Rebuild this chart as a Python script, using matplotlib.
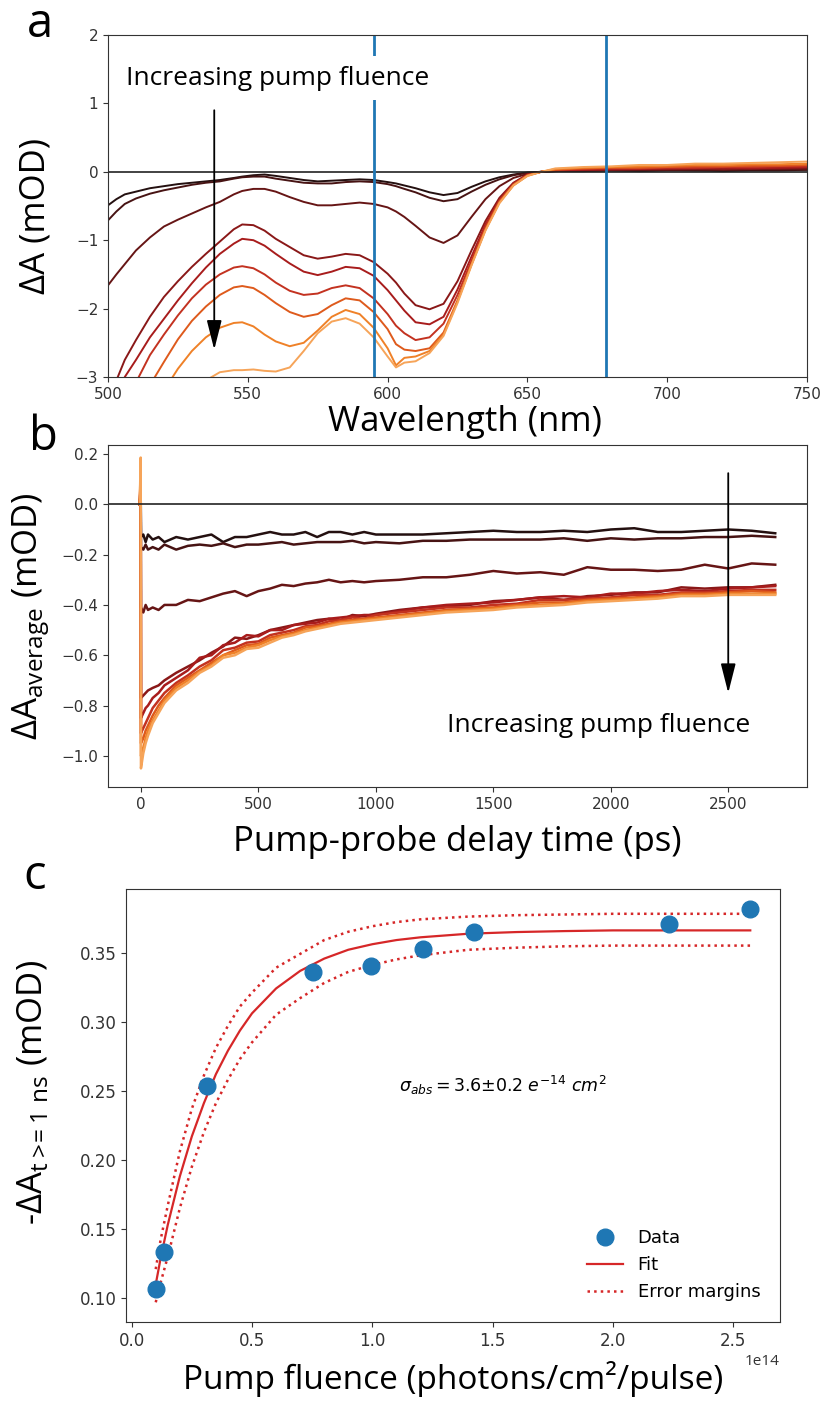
import numpy as np
import matplotlib
matplotlib.use("Agg")
import matplotlib.pyplot as plt

plt.rcParams['font.family'] = ['Open Sans', 'DejaVu Sans']

# ---- panel a : transient spectra (mOD) ----
wavelength = [500, 503, 506, 510, 515, 520, 525, 530, 535, 540, 545, 548, 552, 556, 560,
              565, 570, 575, 580, 585, 590, 595, 600, 603, 606, 610, 615, 620, 625, 630,
              635, 640, 645, 650, 655, 660, 670, 680, 690, 700, 710, 720, 730, 740, 750]
spec1 = [-0.49, -0.40, -0.33, -0.29, -0.24, -0.21, -0.18, -0.16, -0.14, -0.12, -0.09, -0.07, -0.05, -0.04, -0.06,
         -0.09, -0.12, -0.14, -0.13, -0.12, -0.11, -0.12, -0.15, -0.17, -0.20, -0.24, -0.30, -0.34, -0.31, -0.22,
         -0.14, -0.08, -0.04, -0.01, 0.0, 0.01, 0.01, 0.02, 0.01, 0.02, 0.02, 0.01, 0.02, 0.02, 0.03]
spec2 = [-0.71, -0.58, -0.47, -0.39, -0.32, -0.27, -0.23, -0.19, -0.16, -0.14, -0.10, -0.08, -0.07, -0.07, -0.10,
         -0.13, -0.16, -0.17, -0.17, -0.15, -0.14, -0.15, -0.18, -0.21, -0.25, -0.30, -0.38, -0.43, -0.40, -0.29,
         -0.19, -0.11, -0.05, -0.015, 0.0, 0.01, 0.02, 0.02, 0.02, 0.03, 0.02, 0.03, 0.03, 0.03, 0.03]
spec3 = [-1.66, -1.50, -1.35, -1.15, -0.96, -0.80, -0.70, -0.61, -0.52, -0.44, -0.33, -0.28, -0.25, -0.25, -0.29,
         -0.37, -0.44, -0.49, -0.49, -0.47, -0.45, -0.47, -0.52, -0.58, -0.66, -0.79, -0.96, -1.04, -0.93, -0.66,
         -0.40, -0.21, -0.09, -0.03, 0.0, 0.01, 0.02, 0.03, 0.03, 0.03, 0.04, 0.03, 0.04, 0.04, 0.04]
spec4 = [-3.6, -3.05, -2.75, -2.46, -2.12, -1.83, -1.60, -1.39, -1.20, -1.02, -0.84, -0.77, -0.78, -0.86, -0.98,
         -1.10, -1.22, -1.27, -1.24, -1.20, -1.22, -1.32, -1.49, -1.62, -1.78, -1.95, -2.01, -1.93, -1.60, -1.15,
         -0.72, -0.38, -0.16, -0.04, 0.0, 0.02, 0.03, 0.03, 0.04, 0.04, 0.05, 0.04, 0.05, 0.05, 0.06]
spec5 = [-4.0, -3.5, -3.0, -2.75, -2.42, -2.15, -1.88, -1.63, -1.40, -1.20, -1.05, -0.98, -1.00, -1.08, -1.20,
         -1.34, -1.46, -1.51, -1.46, -1.39, -1.41, -1.52, -1.73, -1.88, -2.03, -2.20, -2.23, -2.12, -1.72, -1.24,
         -0.77, -0.41, -0.17, -0.04, 0.0, 0.02, 0.03, 0.04, 0.04, 0.05, 0.05, 0.06, 0.05, 0.06, 0.07]
spec6 = [-4.2, -3.85, -3.5, -3.08, -2.68, -2.38, -2.10, -1.85, -1.65, -1.50, -1.40, -1.38, -1.41, -1.50, -1.62,
         -1.74, -1.80, -1.78, -1.70, -1.66, -1.70, -1.85, -2.08, -2.25, -2.36, -2.46, -2.42, -2.22, -1.80, -1.30,
         -0.80, -0.42, -0.18, -0.05, 0.0, 0.03, 0.04, 0.05, 0.05, 0.06, 0.06, 0.07, 0.07, 0.08, 0.08]
spec7 = [-4.8, -4.4, -4.0, -3.6, -3.12, -2.78, -2.45, -2.18, -1.97, -1.80, -1.69, -1.67, -1.70, -1.80, -1.92,
         -2.05, -2.12, -2.08, -1.95, -1.85, -1.88, -2.05, -2.30, -2.52, -2.60, -2.62, -2.58, -2.35, -1.88, -1.35,
         -0.84, -0.44, -0.19, -0.05, 0.0, 0.03, 0.05, 0.06, 0.06, 0.07, 0.08, 0.08, 0.09, 0.09, 0.10]
spec8 = [-5.2, -4.8, -4.5, -4.1, -3.6, -3.2, -2.88, -2.62, -2.42, -2.28, -2.21, -2.20, -2.26, -2.38, -2.48,
         -2.55, -2.50, -2.32, -2.12, -2.02, -2.08, -2.28, -2.58, -2.83, -2.72, -2.70, -2.62, -2.38, -1.90, -1.36,
         -0.85, -0.45, -0.20, -0.06, 0.0, 0.04, 0.06, 0.07, 0.08, 0.09, 0.10, 0.10, 0.11, 0.11, 0.12]
spec9 = [-6.0, -5.7, -5.4, -5.0, -4.5, -4.0, -3.6, -3.3, -3.05, -2.93, -2.90, -2.90, -2.89, -2.91, -2.92,
         -2.86, -2.62, -2.36, -2.19, -2.14, -2.22, -2.42, -2.70, -2.86, -2.79, -2.77, -2.65, -2.40, -1.92, -1.37,
         -0.86, -0.46, -0.20, -0.06, 0.0, 0.05, 0.07, 0.08, 0.10, 0.10, 0.12, 0.12, 0.13, 0.14, 0.15]
spectra = [spec1, spec2, spec3, spec4, spec5, spec6, spec7, spec8, spec9]
probe_lines = [595, 678]

# ---- panel b : averaged kinetics (mOD) ----
delay = [-5, -1, 0, 10, 20, 30, 50, 75, 100, 150, 200, 250, 300, 350, 400, 450, 500, 550, 600, 650,
         700, 750, 800, 850, 900, 950, 1000, 1100, 1200, 1300, 1400, 1500, 1600, 1700, 1800, 1900,
         2000, 2100, 2200, 2300, 2400, 2500, 2600, 2700]
kin1 = [0.0, 0.05, -0.13, -0.12, -0.15, -0.12, -0.14, -0.13, -0.15, -0.13, -0.14, -0.13, -0.12, -0.15, -0.13,
        -0.13, -0.12, -0.11, -0.12, -0.12, -0.11, -0.13, -0.11, -0.11, -0.12, -0.11, -0.12, -0.12, -0.12, -0.115,
        -0.11, -0.105, -0.11, -0.11, -0.105, -0.11, -0.10, -0.095, -0.11, -0.11, -0.105, -0.10, -0.105, -0.115]
kin2 = [0.0, 0.05, -0.17, -0.18, -0.16, -0.18, -0.17, -0.18, -0.16, -0.18, -0.165, -0.16, -0.165, -0.155, -0.17,
        -0.16, -0.16, -0.155, -0.15, -0.16, -0.155, -0.15, -0.15, -0.15, -0.145, -0.155, -0.15, -0.155, -0.145, -0.145,
        -0.14, -0.14, -0.14, -0.14, -0.135, -0.145, -0.135, -0.14, -0.135, -0.135, -0.13, -0.13, -0.125, -0.13]
kin3 = [0.0, 0.05, -0.41, -0.43, -0.40, -0.42, -0.41, -0.42, -0.40, -0.40, -0.38, -0.385, -0.37, -0.355, -0.345,
        -0.365, -0.345, -0.335, -0.32, -0.325, -0.315, -0.31, -0.30, -0.31, -0.305, -0.31, -0.305, -0.30, -0.29, -0.29,
        -0.28, -0.265, -0.275, -0.27, -0.28, -0.25, -0.26, -0.26, -0.265, -0.26, -0.24, -0.255, -0.235, -0.24]
kin4 = [0.0, 0.08, -0.77, -0.76, -0.75, -0.74, -0.73, -0.72, -0.70, -0.67, -0.645, -0.62, -0.59, -0.565, -0.53,
        -0.535, -0.52, -0.50, -0.49, -0.48, -0.47, -0.46, -0.455, -0.46, -0.44, -0.445, -0.435, -0.42, -0.41, -0.405,
        -0.40, -0.385, -0.38, -0.37, -0.38, -0.365, -0.36, -0.35, -0.35, -0.33, -0.335, -0.33, -0.33, -0.32]
kin5 = [0.0, 0.08, -0.85, -0.83, -0.81, -0.80, -0.77, -0.75, -0.72, -0.69, -0.66, -0.61, -0.60, -0.56, -0.55,
        -0.52, -0.525, -0.50, -0.50, -0.48, -0.475, -0.47, -0.455, -0.45, -0.445, -0.44, -0.44, -0.425, -0.41, -0.40,
        -0.395, -0.39, -0.38, -0.37, -0.365, -0.37, -0.355, -0.355, -0.345, -0.34, -0.345, -0.335, -0.33, -0.325]
kin6 = [0.0, 0.10, -0.91, -0.89, -0.87, -0.85, -0.81, -0.78, -0.75, -0.71, -0.68, -0.645, -0.62, -0.58, -0.57,
        -0.55, -0.545, -0.52, -0.51, -0.50, -0.485, -0.48, -0.465, -0.46, -0.45, -0.455, -0.44, -0.43, -0.42, -0.41,
        -0.41, -0.40, -0.395, -0.38, -0.38, -0.375, -0.37, -0.36, -0.36, -0.35, -0.35, -0.345, -0.34, -0.34]
kin7 = [0.0, 0.12, -0.95, -0.93, -0.90, -0.88, -0.84, -0.80, -0.77, -0.72, -0.69, -0.66, -0.63, -0.60, -0.58,
        -0.56, -0.555, -0.53, -0.52, -0.51, -0.49, -0.485, -0.475, -0.465, -0.46, -0.455, -0.45, -0.44, -0.43, -0.42,
        -0.415, -0.41, -0.40, -0.39, -0.39, -0.38, -0.375, -0.37, -0.365, -0.355, -0.355, -0.35, -0.345, -0.35]
kin8 = [0.0, 0.15, -1.00, -0.97, -0.93, -0.90, -0.86, -0.82, -0.78, -0.73, -0.70, -0.665, -0.64, -0.60, -0.59,
        -0.57, -0.56, -0.54, -0.525, -0.515, -0.50, -0.49, -0.48, -0.47, -0.465, -0.46, -0.455, -0.445, -0.435, -0.425,
        -0.42, -0.415, -0.405, -0.40, -0.395, -0.385, -0.38, -0.375, -0.37, -0.36, -0.36, -0.355, -0.355, -0.355]
kin9 = [0.0, 0.186, -1.05, -0.99, -0.95, -0.92, -0.87, -0.83, -0.79, -0.74, -0.71, -0.67, -0.645, -0.61, -0.60,
        -0.575, -0.57, -0.55, -0.53, -0.52, -0.505, -0.495, -0.485, -0.475, -0.47, -0.465, -0.46, -0.45, -0.44, -0.43,
        -0.425, -0.42, -0.41, -0.405, -0.40, -0.39, -0.385, -0.38, -0.375, -0.365, -0.365, -0.36, -0.36, -0.36]
kinetics = [kin1, kin2, kin3, kin4, kin5, kin6, kin7, kin8, kin9]

# ---- panel c : saturation vs fluence ----
fluence = [0.102, 0.134, 0.312, 0.753, 0.996, 1.21, 1.421, 2.232, 2.568]     # x 1e14 photons/cm2/pulse
bleach = [0.1068, 0.1337, 0.2532, 0.3362, 0.3402, 0.3525, 0.3651, 0.3707, 0.3817]
fit_fluence = [0.1, 0.12, 0.15, 0.2, 0.25, 0.3, 0.35, 0.4, 0.45, 0.5, 0.6, 0.7, 0.8, 0.9, 1.0, 1.1,
               1.2, 1.4, 1.6, 1.8, 2.0, 2.2, 2.4, 2.57]
fit = [0.110, 0.1285, 0.153, 0.188, 0.217, 0.241, 0.262, 0.279, 0.2936, 0.306, 0.324, 0.3367, 0.3456,
       0.352, 0.356, 0.359, 0.361, 0.3636, 0.3648, 0.3655, 0.366, 0.366, 0.366, 0.366]
fit_upper = [0.121, 0.142, 0.167, 0.206, 0.237, 0.261, 0.281, 0.297, 0.311, 0.321, 0.339, 0.349, 0.359,
             0.365, 0.369, 0.372, 0.374, 0.376, 0.377, 0.3775, 0.378, 0.378, 0.378, 0.378]
fit_lower = [0.097, 0.111, 0.130, 0.165, 0.195, 0.220, 0.241, 0.258, 0.273, 0.285, 0.305, 0.317, 0.328,
             0.336, 0.341, 0.345, 0.348, 0.352, 0.3535, 0.3545, 0.355, 0.355, 0.355, 0.355]

colors = ['#241010', '#471313', '#661515', '#8a1818', '#a81c1c', '#c33220', '#de5a1c', '#ef8128', '#f6a459']

W, H = 822, 1403
fig = plt.figure(figsize=(W / 100, H / 100), dpi=100)


def rect(left, top, right, bottom):
	return [left / W, 1 - bottom / H, (right - left) / W, (bottom - top) / H]


label_fs = 25
tick_fs = 11
arrow = dict(arrowstyle='-|>,head_length=1.5,head_width=0.38', color='black',
             lw=1.3, mutation_scale=12, shrinkA=0, shrinkB=0)

# panel a
ax1 = fig.add_axes(rect(108, 35, 807, 377))
for s, c in zip(spectra, colors):
	ax1.plot(wavelength, s, color=c, lw=1.4)
ax1.axhline(0, color='#222222', lw=1.2)
for wl in probe_lines:
	ax1.axvline(wl, color='tab:blue', lw=2)
ax1.set_xlim(500, 750)
ax1.set_ylim(-3, 2)
ax1.set_xticks([500, 550, 600, 650, 700, 750])
ax1.set_yticks([-3, -2, -1, 0, 1, 2])
ax1.set_xlabel('Wavelength (nm)', fontsize=label_fs)
ax1.set_ylabel('ΔA (mOD)', fontsize=label_fs)
ax1.xaxis.set_label_coords(0.51, -0.082)
ax1.yaxis.set_label_coords(-0.08, 0.47)
ax1.text(506.5, 1.37, 'Increasing pump fluence', fontsize=19, va='center', ha='left',
         bbox=dict(facecolor='white', edgecolor='none', pad=7), zorder=5)
ax1.annotate('', xy=(538, -2.6), xytext=(538, 0.9), arrowprops=arrow)

# panel b
ax2 = fig.add_axes(rect(108, 445, 807, 787))
for k, c in zip(kinetics, colors):
	ax2.plot(delay, k, color=c, lw=1.8)
ax2.axhline(0, color='#222222', lw=1.2)
ax2.set_ylim(-1.124, 0.236)
ax2.set_yticks([-1.0, -0.8, -0.6, -0.4, -0.2, 0.0, 0.2])
ax2.set_xlabel('Pump-probe delay time (ps)', fontsize=label_fs)
ax2.set_ylabel(r'ΔA$_{\mathregular{average}}$ (mOD)', fontsize=label_fs)
ax2.xaxis.set_label_coords(0.50, -0.111)
ax2.yaxis.set_label_coords(-0.08, 0.5)
ax2.annotate('', xy=(2500, -0.75), xytext=(2500, 0.124), arrowprops=arrow)
ax2.text(1950, -0.88, 'Increasing pump fluence', fontsize=19, va='center', ha='center')

# panel c
ax3 = fig.add_axes(rect(126, 889, 780, 1322))
F = np.array(fluence) * 1e14
Ff = np.array(fit_fluence) * 1e14
ax3.plot(F, bleach, 'o', color='tab:blue', ms=12, label='Data', zorder=3)
ax3.plot(Ff, fit, '-', color='tab:red', lw=1.6, label='Fit')
ax3.plot(Ff, fit_upper, ':', color='tab:red', lw=1.8, label='Error margins')
ax3.plot(Ff, fit_lower, ':', color='tab:red', lw=1.8)
ax3.set_yticks([0.10, 0.15, 0.20, 0.25, 0.30, 0.35])
ax3.set_xlabel('Pump fluence (photons/cm²/pulse)', fontsize=24)
ax3.set_ylabel(r'-ΔA$_{\mathregular{t>\!\!=1\ ns}}$ (mOD)', fontsize=label_fs)
ax3.xaxis.set_label_coords(0.50, -0.09)
ax3.yaxis.set_label_coords(-0.116, 0.53)
ax3.text(1.11e14, 0.254, r'$\sigma_{abs} = 3.6{\pm}0.2\ e^{-14}\ cm^2$', fontsize=12.5,
         va='center', ha='left', family='DejaVu Sans')
ax3.legend(loc='lower right', frameon=False, bbox_to_anchor=(0.995, 0.01),
           prop={'family': 'DejaVu Sans', 'size': 13})
ax3.xaxis.get_offset_text().set_fontsize(11)

for ax in (ax1, ax2):
	ax.tick_params(labelsize=tick_fs, labelfontfamily='DejaVu Sans', colors='#333333')
ax3.tick_params(labelsize=12, labelfontfamily='DejaVu Sans', colors='#333333')
for ax in (ax1, ax2, ax3):
	for sp in ax.spines.values():
		sp.set_color('#333333')

fig.text(40 / W, 1 - 37 / H, 'a', fontsize=34, ha='center', va='baseline')
fig.text(43 / W, 1 - 450 / H, 'b', fontsize=34, ha='center', va='baseline')
fig.text(35 / W, 1 - 889 / H, 'c', fontsize=34, ha='center', va='baseline')

fig.savefig('out.png', dpi=100)
